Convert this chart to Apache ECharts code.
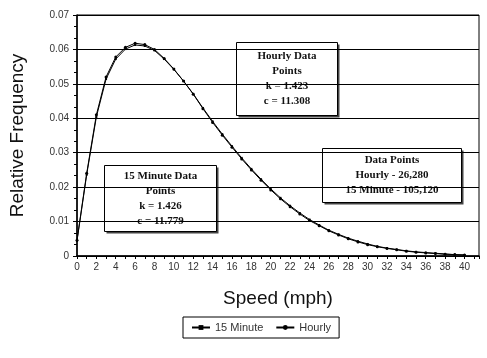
<!DOCTYPE html>
<html><head><meta charset="utf-8">
<script src="https://cdn.jsdelivr.net/npm/echarts@6/dist/echarts.min.js"></script>
<style>html,body{margin:0;padding:0;background:#fff}#c{width:487px;height:358px}</style>
</head><body><div id="c"></div>
<script>
var speeds = [0,1,2,3,4,5,6,7,8,9,10,11,12,13,14,15,16,17,18,19,20,21,22,23,24,25,26,27,28,29,30,31,32,33,34,35,36,37,38,39,40];
var hourly = [0.0046,0.0240,0.0410,0.0520,0.0578,0.0606,0.0618,0.0614,0.0600,0.0574,0.0543,0.0508,0.0470,0.0428,0.0388,0.0351,0.0316,0.0282,0.0250,0.0220,0.0192,0.0166,0.0143,0.0122,0.0103,0.0088,0.0073,0.0061,0.0050,0.0041,0.0033,0.0027,0.0022,0.0018,0.0014,0.0011,0.0009,0.0007,0.0005,0.0004,0.0003];
var min15 = [0.0044,0.0236,0.0404,0.0514,0.0572,0.0601,0.0613,0.0610,0.0597,0.0572,0.0542,0.0508,0.0471,0.0430,0.0391,0.0354,0.0319,0.0285,0.0253,0.0223,0.0195,0.0169,0.0146,0.0125,0.0106,0.0090,0.0075,0.0063,0.0052,0.0043,0.0035,0.0028,0.0023,0.0019,0.0015,0.0012,0.0010,0.0008,0.0006,0.0004,0.0003];
var yTicks = [0,0.01,0.02,0.03,0.04,0.05,0.06,0.07];
var seriesNames = ['15 Minute','Hourly'];
var hourlyBox = ['Hourly Data','Points','k = 1.423','c = 11.308'];
var minBox = ['15 Minute Data','Points','k = 1.426','c = 11.779'];
var countBox = ['Data Points','Hourly - 26,280','15 Minute - 105,120'];

var chart = echarts.init(document.getElementById('c'), null, {renderer:'canvas'});
function pair(v){ return speeds.map(function(s,i){ return [s, v[i]]; }); }
var serif = 'Liberation Serif';
function box(lines, left, top, w, h){
  return {type:'group', left:left, top:top, z:100, children:[
    {type:'rect', shape:{x:2,y:2,width:w,height:h}, style:{fill:'#444'}},
    {type:'rect', shape:{x:0,y:0,width:w,height:h}, style:{fill:'#fff', stroke:'#000', lineWidth:1}},
    {type:'text', style:{x:w/2, y:h/2, text:lines.join('\n'), align:'center', verticalAlign:'middle',
      font:'bold 11px "' + serif + '"', lineHeight:15, fill:'#111'}}
  ]};
}
chart.setOption({
  animation:false,
  backgroundColor:'#fff',
  grid:{left:76, top:15, width:403, height:241, show:true, borderColor:'#000', borderWidth:1, backgroundColor:'transparent'},
  legend:{data:seriesNames, left:183, top:317, width:143, itemWidth:18, itemHeight:6, itemGap:12,
    borderColor:'#000', borderWidth:1, padding:[5,8,5,8],
    textStyle:{fontFamily:'Liberation Sans', fontSize:11, color:'#333'}},
  xAxis:{type:'value', min:0, max:41.5, interval:1,
    name:'Speed (mph)', nameLocation:'middle', nameGap:33,
    nameTextStyle:{fontFamily:'Liberation Sans', fontSize:19, color:'#111'},
    axisLine:{show:true, onZero:false, lineStyle:{color:'#000', width:1.5}},
    axisTick:{show:true, length:3, lineStyle:{color:'#000'}},
    axisLabel:{fontFamily:'Liberation Sans', fontSize:10, color:'#333', margin:6,
      formatter:function(v){ return (v%2===0 && v<=40) ? String(v) : ''; }},
    splitLine:{show:false}},
  yAxis:{type:'value', min:0, max:0.07, interval:0.01,
    name:'Relative Frequency', nameLocation:'middle', nameGap:50,
    nameTextStyle:{fontFamily:'Liberation Sans', fontSize:19, color:'#111'},
    axisLine:{show:true, lineStyle:{color:'#000', width:1.5}},
    axisTick:{show:true, length:4, lineStyle:{color:'#000'}},
    minorTick:{show:true, splitNumber:3, length:3, lineStyle:{color:'#000'}},
    axisLabel:{fontFamily:'Liberation Sans', fontSize:10, color:'#333', margin:8,
      formatter:function(v){ return v===0 ? '0' : v.toFixed(2); }},
    splitLine:{show:true, lineStyle:{color:'#000', width:1.2}}},
  series:[
    {name:seriesNames[0], type:'line', data:pair(min15), symbol:'rect', symbolSize:2,
      lineStyle:{color:'#000', width:1}, itemStyle:{color:'#000'}, z:3},
    {name:seriesNames[1], type:'line', data:pair(hourly), symbol:'circle', symbolSize:3,
      lineStyle:{color:'#000', width:1}, itemStyle:{color:'#000'}, z:4}
  ],
  graphic:[
    box(hourlyBox, 236, 42, 101, 73),
    box(countBox, 322, 148, 139, 54),
    box(minBox, 104, 165, 112, 66)
  ]
});
</script></body></html>
